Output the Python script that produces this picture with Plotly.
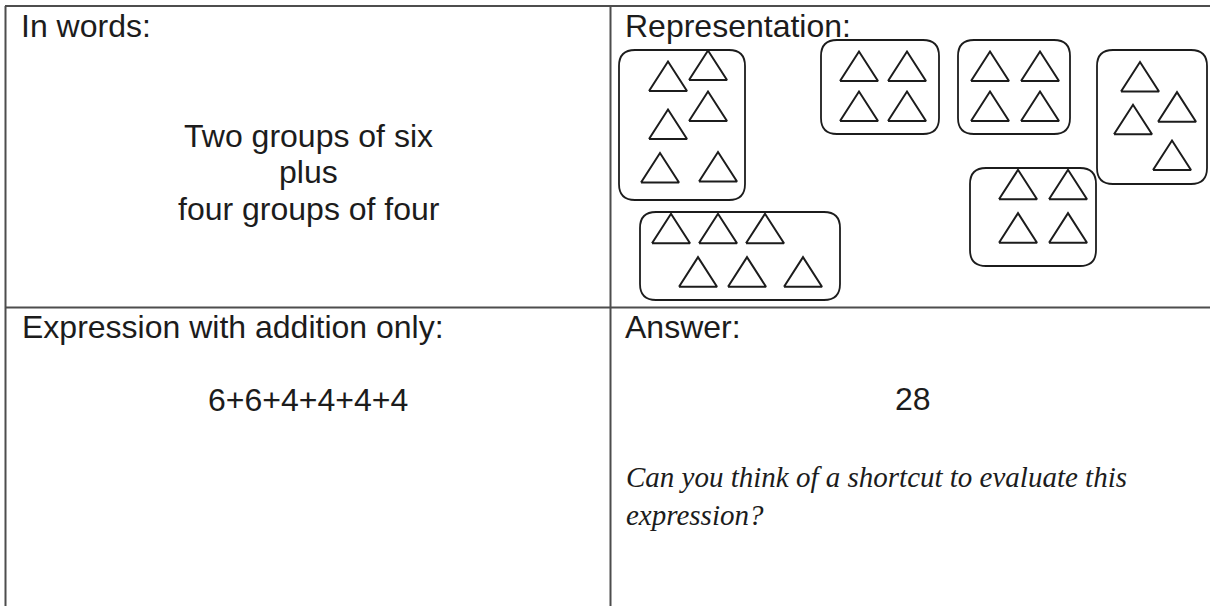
import plotly.graph_objects as go

# ---- content -------------------------------------------------------------
cell_titles = ["In words:", "Representation:", "Expression with addition only:", "Answer:"]
words_lines = ["Two groups of six", "plus", "four groups of four"]
expression = "6+6+4+4+4+4"
answer = "28"
prompt_lines = ["Can you think of a shortcut to evaluate this", "expression?"]

# groups: bounding boxes (x0, y0, x1, y1) in page pixels
group_boxes = [
    (619, 50, 745, 200),
    (821, 40, 939, 134),
    (958, 40, 1070, 134),
    (1097, 50, 1207, 184),
    (970, 168, 1096, 266),
    (640, 212, 840, 300),
]
# triangles in each group: apex x, base y
group_tri_x = [
    [668, 708, 708, 668, 660, 718],
    [859, 907, 859, 907],
    [990, 1040, 990, 1040],
    [1140, 1177, 1133, 1172],
    [1018, 1068, 1018, 1068],
    [671, 718, 765, 698, 747, 803],
]
group_tri_y = [
    [91, 80, 121, 139, 182.5, 181.5],
    [81, 81, 121, 121],
    [81, 81, 121, 121],
    [91.5, 121.7, 134.3, 170],
    [199.3, 199.3, 242.7, 242.7],
    [243.3, 243.3, 243.3, 286.7, 286.7, 286.7],
]

W, H = 1210, 606
TRI_W, TRI_H = 38, 29.5
INK = "#1c1c1c"
GRID = "#4d4d4d"

fig = go.Figure()

# triangles
for xs, ys in zip(group_tri_x, group_tri_y):
    px, py = [], []
    for ax, by in zip(xs, ys):
        px += [ax - TRI_W / 2, ax + TRI_W / 2, ax, ax - TRI_W / 2, None]
        py += [by, by, by - TRI_H, by, None]
    fig.add_trace(go.Scatter(x=px, y=py, mode="lines",
                             line=dict(color=INK, width=2),
                             hoverinfo="skip", showlegend=False))

# rounded boxes
def rrect(x0, y0, x1, y1, r=16):
    return (f"M {x0+r},{y0} L {x1-r},{y0} Q {x1},{y0} {x1},{y0+r} "
            f"L {x1},{y1-r} Q {x1},{y1} {x1-r},{y1} L {x0+r},{y1} "
            f"Q {x0},{y1} {x0},{y1-r} L {x0},{y0+r} Q {x0},{y0} {x0+r},{y0} Z")

shapes = []
for (x0, y0, x1, y1) in group_boxes:
    shapes.append(dict(type="path", path=rrect(x0, y0, x1, y1), xref="x", yref="y",
                       line=dict(color=INK, width=1.8)))

# table grid
for (x0, y0, x1, y1) in [(5, 6, 1210, 6), (5.5, 6, 5.5, 606), (610.5, 6, 610.5, 606),
                         (5, 307.5, 1210, 307.5)]:
    shapes.append(dict(type="line", x0=x0, y0=y0, x1=x1, y1=y1, xref="x", yref="y",
                       line=dict(color=GRID, width=2)))

SANS = "Liberation Sans, Arial, sans-serif"
SERIF = "Liberation Serif, Times New Roman, serif"
annotations = []

def txt(text, x, baseline, size, xanchor="left", family=SANS, k=0.35):
    annotations.append(dict(text=text, x=x, y=baseline - k * size, xref="x", yref="y",
                            xanchor=xanchor, yanchor="middle", showarrow=False,
                            font=dict(family=family, size=size, color=INK)))

txt(cell_titles[0], 19, 37, 32)
txt(cell_titles[1], 623, 37, 32)
txt(cell_titles[2], 20, 338.5, 32)
txt(cell_titles[3], 623, 338.5, 32)

for line, b in zip(words_lines, [146.7, 183.3, 220]):
    txt(line, 308.5, b, 32, xanchor="center")

txt(expression, 308, 410.7, 32, xanchor="center")
txt(answer, 913, 410.5, 32, xanchor="center")

for line, b in zip(prompt_lines, [486.7, 525]):
    txt(f"<i>{line}</i>", 624, b, 29, family=SERIF, k=0.34)

fig.update_layout(
    width=W, height=H,
    margin=dict(l=0, r=0, t=0, b=0),
    paper_bgcolor="white", plot_bgcolor="white",
    xaxis=dict(range=[0, W], visible=False, fixedrange=True),
    yaxis=dict(range=[H, 0], visible=False, fixedrange=True),
    shapes=shapes, annotations=annotations,
    showlegend=False,
)

fig.write_html(
    "out.html",
    config={"displayModeBar": False},
    post_script="document.body.style.margin='0';document.body.style.overflow='hidden';"
                "document.documentElement.style.overflow='hidden';",
)
